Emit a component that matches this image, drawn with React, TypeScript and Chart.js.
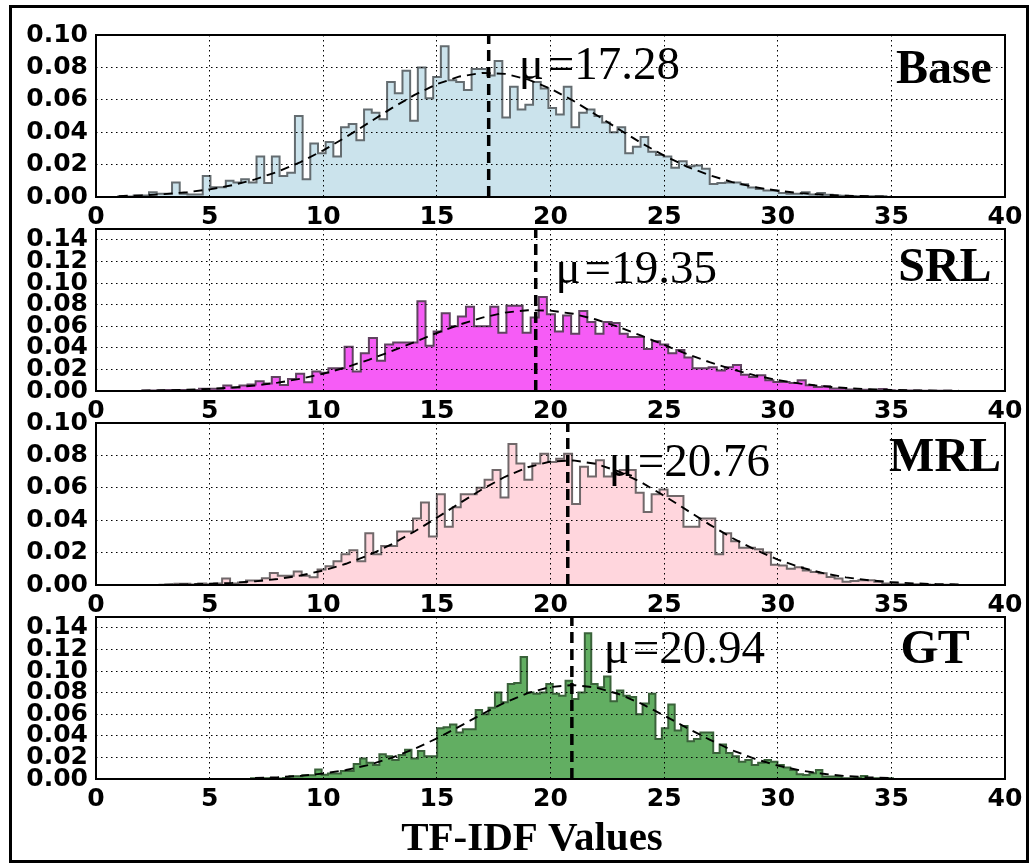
import React, { useEffect, useRef } from "react";
import { Chart, registerables } from "chart.js";

Chart.register(...registerables);

// ---------------- data ----------------
const xTickValues = [0, 5, 10, 15, 20, 25, 30, 35, 40];
const yTickValuesShort = [0, 0.02, 0.04, 0.06, 0.08, 0.1];
const yTickValuesTall = [0, 0.02, 0.04, 0.06, 0.08, 0.1, 0.12, 0.14];
const xAxisLabel = "TF-IDF Values";

const panelNames = ["Base", "SRL", "MRL", "GT"];
const panelMeans = [17.28, 19.35, 20.76, 20.94];
const panelYMax = [0.1, 0.15, 0.1, 0.15];

// Base histogram (density per bin)
const baseBinStart = 0.98;
const baseBinWidth = 0.338;
const baseHeights = [
  0.0005, 0.0005, 0.0003, 0.001, 0.001, 0.003, 0.002, 0.002, 0.009, 0.002,
  0.0015, 0.0015, 0.013, 0.006, 0.006, 0.01, 0.009, 0.011, 0.009, 0.025,
  0.0086, 0.025, 0.013, 0.015, 0.05, 0.011, 0.033, 0.027, 0.034, 0.025,
  0.043, 0.045, 0.035, 0.054, 0.052, 0.048, 0.071, 0.064, 0.078, 0.047,
  0.08, 0.061, 0.074, 0.093, 0.072, 0.071, 0.066, 0.079, 0.079, 0.075,
  0.084, 0.049, 0.068, 0.054, 0.057, 0.071, 0.067, 0.055, 0.051, 0.068,
  0.043, 0.052, 0.054, 0.05, 0.046, 0.04, 0.043, 0.027, 0.031, 0.037,
  0.028, 0.026, 0.025, 0.018, 0.022, 0.019, 0.0195, 0.0175, 0.008, 0.0086,
  0.009, 0.009, 0.0078, 0.0058, 0.005, 0.004, 0.004, 0.0025, 0.002, 0.002,
  0.003, 0.0016, 0.0025, 0.0014, 0.001, 0.0008, 0.0006, 0.0005, 0.0005, 0.0004,
];
const baseCurveX = [1, 2, 3, 4, 5, 6, 7, 8, 9, 10, 11, 12, 13, 14, 15, 16, 17, 18, 19, 20, 21, 22, 23, 24, 25, 26, 27, 28, 29, 30, 31, 32, 33, 34, 35];
const baseCurveY = [
  0.00057, 0.00102, 0.00177, 0.00294, 0.00472, 0.00729, 0.01087, 0.01561, 0.02159, 0.02879,
  0.037, 0.0458, 0.0547, 0.0629, 0.0697, 0.0744, 0.0766, 0.076, 0.0726, 0.0669,
  0.0594, 0.0508, 0.0419, 0.0333, 0.0255, 0.0188, 0.0134, 0.00916, 0.00605, 0.00385,
  0.00236, 0.0014, 0.0008, 0.00044, 0.00023,
];

// SRL histogram
const srlBinStart = 2.04;
const srlBinWidth = 0.356;
const srlHeights = [
  0.0003, 0.0005, 0.0005, 0.0008, 0.001, 0.001, 0.001, 0.001, 0.002, 0.002,
  0.002, 0.005, 0.003, 0.005, 0.006, 0.009, 0.007, 0.013, 0.0056, 0.011,
  0.016, 0.008, 0.018, 0.017, 0.021, 0.021, 0.041, 0.018, 0.035, 0.049,
  0.028, 0.043, 0.045, 0.045, 0.045, 0.083, 0.042, 0.055, 0.072, 0.06,
  0.069, 0.078, 0.06, 0.06, 0.078, 0.054, 0.079, 0.079, 0.054, 0.068,
  0.087, 0.071, 0.055, 0.07, 0.053, 0.074, 0.064, 0.053, 0.064, 0.063,
  0.053, 0.05, 0.05, 0.039, 0.046, 0.043, 0.035, 0.038, 0.031, 0.021,
  0.021, 0.022, 0.019, 0.022, 0.024, 0.015, 0.013, 0.0145, 0.0099, 0.0084,
  0.0084, 0.0074, 0.0099, 0.0053, 0.0037, 0.0043, 0.0022, 0.0022, 0.0015, 0.0012,
  0.0012, 0.0006, 0.0018, 0.0006, 0.0003, 0.0004, 0.0005, 0.0003, 0.0003, 0.0002,
];
const srlCurveX = [2, 3, 4, 5, 6, 7, 8, 9, 10, 11, 12, 13, 14, 15, 16, 17, 18, 19, 20, 21, 22, 23, 24, 25, 26, 27, 28, 29, 30, 31, 32, 33, 34, 35, 36, 37, 38];
const srlCurveY = [
  0.00037, 0.00067, 0.00117, 0.00197, 0.00322, 0.00506, 0.0077, 0.0113, 0.016, 0.0219,
  0.0289, 0.0368, 0.0452, 0.0537, 0.0615, 0.068, 0.0726, 0.0748, 0.0744, 0.0715,
  0.0662, 0.0593, 0.0512, 0.0427, 0.0343, 0.0267, 0.02, 0.0145, 0.0101, 0.0068,
  0.0044, 0.0028, 0.0017, 0.001, 0.00056, 0.00031, 0.00016,
];

// MRL histogram
const mrlBinStart = 2.75;
const mrlBinWidth = 0.35;
const mrlHeights = [
  0.0005, 0.0002, 0.0002, 0.0008, 0.0008, 0.0003, 0.001, 0.0005, 0.001, 0.004,
  0.001, 0.0015, 0.0028, 0.0028, 0.0042, 0.0074, 0.0057, 0.0057, 0.0084, 0.0057,
  0.0048, 0.0095, 0.0116, 0.0147, 0.019, 0.0215, 0.0147, 0.032, 0.019, 0.024,
  0.024, 0.033, 0.033, 0.041, 0.051, 0.03, 0.056, 0.036, 0.048, 0.056,
  0.056, 0.06, 0.065, 0.071, 0.054, 0.087, 0.075, 0.065, 0.075, 0.081,
  0.076, 0.078, 0.081, 0.05, 0.073, 0.067, 0.077, 0.067, 0.069, 0.071,
  0.071, 0.057, 0.045, 0.056, 0.059, 0.055, 0.055, 0.036, 0.036, 0.041,
  0.041, 0.019, 0.032, 0.027, 0.023, 0.023, 0.022, 0.02, 0.0125, 0.012,
  0.01, 0.011, 0.009, 0.008, 0.0073, 0.005, 0.004, 0.002, 0.0025, 0.003,
  0.003, 0.002, 0.001, 0.001, 0.0005, 0.0003, 0.0004, 0.0003, 0.0002, 0.0002,
];
const mrlCurveX = [3, 4, 5, 6, 7, 8, 9, 10, 11, 12, 13, 14, 15, 16, 17, 18, 19, 20, 21, 22, 23, 24, 25, 26, 27, 28, 29, 30, 31, 32, 33, 34, 35, 36, 37, 38];
const mrlCurveY = [
  0.00022, 0.00041, 0.00075, 0.00133, 0.00227, 0.00371, 0.00586, 0.00892, 0.0131, 0.0184,
  0.0251, 0.0329, 0.0415, 0.0505, 0.0592, 0.0668, 0.0727, 0.0762, 0.0769, 0.0748,
  0.0701, 0.0633, 0.0551, 0.0462, 0.0373, 0.029, 0.0218, 0.0157, 0.0109, 0.0073,
  0.0047, 0.0029, 0.0018, 0.001, 0.00057, 0.0003,
];

// GT histogram
const gtBinStart = 6.82;
const gtBinWidth = 0.2825;
const gtHeights = [
  0.0008, 0.0008, 0.0008, 0.0008, 0.001, 0.0005, 0.001, 0.0025, 0.0025, 0.0035,
  0.0035, 0.0088, 0.004, 0.005, 0.005, 0.0075, 0.0075, 0.0138, 0.019, 0.015,
  0.013, 0.023, 0.021, 0.0176, 0.0223, 0.027, 0.019, 0.026, 0.021, 0.021,
  0.047, 0.048, 0.0505, 0.043, 0.046, 0.046, 0.064, 0.06, 0.066, 0.08,
  0.071, 0.088, 0.089, 0.113, 0.08, 0.079, 0.08, 0.088, 0.079, 0.077,
  0.091, 0.074, 0.08, 0.135, 0.088, 0.085, 0.095, 0.072, 0.082, 0.077,
  0.076, 0.06, 0.07, 0.079, 0.037, 0.047, 0.069, 0.045, 0.049, 0.035,
  0.037, 0.043, 0.043, 0.024, 0.032, 0.024, 0.021, 0.016, 0.0176, 0.013,
  0.015, 0.0176, 0.016, 0.013, 0.0106, 0.0084, 0.0044, 0.0037, 0.0053, 0.0084,
  0.0022, 0.0022, 0.0022, 0.0006, 0.0006, 0.0012, 0.0028, 0.0008, 0.0006, 0.0008,
];
const gtCurveX = [7, 8, 9, 10, 11, 12, 13, 14, 15, 16, 17, 18, 19, 20, 21, 22, 23, 24, 25, 26, 27, 28, 29, 30, 31, 32, 33, 34, 35];
const gtCurveY = [
  0.00086, 0.00163, 0.00294, 0.00507, 0.00833, 0.013, 0.0195, 0.0277, 0.0376, 0.0487,
  0.0602, 0.0709, 0.0796, 0.0852, 0.087, 0.0847, 0.0787, 0.0697, 0.0588, 0.0474,
  0.0364, 0.0266, 0.0186, 0.0124, 0.0079, 0.0048, 0.0027, 0.0015, 0.0008,
];

// ---------------- layout / style ----------------
const PAGE_W = 1031;
const PAGE_H = 864;
const PLOT_LEFT = 96;
const PLOT_RIGHT = 1005;
const PLOT_TOPS = [35, 229, 423, 617];
const PLOT_H = 162;
const X_AXIS_H = 40;

const panelStyles = [
  { fill: "rgb(203,227,236)", edge: "rgb(100,108,112)", muX: 18.6, muDy: 44, labelX: 35.2, labelDy: 48 },
  { fill: "rgb(246,92,246)", edge: "rgb(96,68,96)", muX: 20.22, muDy: 54, labelX: 35.3, labelDy: 52 },
  { fill: "rgb(255,214,221)", edge: "rgb(112,104,106)", muX: 22.56, muDy: 53, labelX: 34.9, labelDy: 48 },
  { fill: "rgb(98,174,98)", edge: "rgb(58,98,58)", muX: 22.34, muDy: 46, labelX: 35.4, labelDy: 46 },
];

const histSources = [
  { start: baseBinStart, width: baseBinWidth, heights: baseHeights, cx: baseCurveX, cy: baseCurveY },
  { start: srlBinStart, width: srlBinWidth, heights: srlHeights, cx: srlCurveX, cy: srlCurveY },
  { start: mrlBinStart, width: mrlBinWidth, heights: mrlHeights, cx: mrlCurveX, cy: mrlCurveY },
  { start: gtBinStart, width: gtBinWidth, heights: gtHeights, cx: gtCurveX, cy: gtCurveY },
];

function histPoints(start: number, width: number, heights: number[]) {
  const pts: { x: number; y: number }[] = [{ x: start, y: 0 }];
  heights.forEach((h, i) => pts.push({ x: start + i * width, y: h }));
  const end = start + heights.length * width;
  pts.push({ x: end, y: heights[heights.length - 1] });
  pts.push({ x: end, y: 0 });
  return pts;
}

const tickFont = { family: "'DejaVu Sans'", size: 25, weight: "bold" as const };

function makeChart(canvas: HTMLCanvasElement, idx: number) {
  const src = histSources[idx];
  const st = panelStyles[idx];
  const mean = panelMeans[idx];
  const ymax = panelYMax[idx];
  const yTicks = ymax > 0.12 ? yTickValuesTall : yTickValuesShort;
  const top = PLOT_TOPS[idx];
  const isLast = idx === panelNames.length - 1;

  const annot = {
    id: "annot" + idx,
    afterDraw(chart: any) {
      const { ctx, chartArea: a, scales } = chart;
      ctx.save();
      ctx.setLineDash([]);
      ctx.strokeStyle = "#000";
      ctx.lineWidth = 2;
      ctx.strokeRect(a.left, a.top, a.right - a.left, a.bottom - a.top);
      ctx.fillStyle = "#000";
      ctx.textAlign = "left";
      ctx.textBaseline = "alphabetic";
      ctx.font = "47px 'Liberation Serif'";
      ctx.fillText("\u03bc\u200a=" + mean.toFixed(2), scales.x.getPixelForValue(st.muX), a.top + st.muDy);
      ctx.font = "bold 48px 'Liberation Serif'";
      ctx.fillText(panelNames[idx], scales.x.getPixelForValue(st.labelX), a.top + st.labelDy);
      if (isLast) {
        ctx.textAlign = "center";
        ctx.font = "bold 41px 'Liberation Serif'";
        ctx.fillText(xAxisLabel, 532, 850);
      }
      ctx.restore();
    },
  };

  return new Chart(canvas, {
    type: "line",
    data: {
      datasets: [
        {
          label: "mean",
          data: [
            { x: mean, y: 0 },
            { x: mean, y: ymax },
          ],
          borderColor: "#000",
          borderWidth: 3.5,
          borderDash: [11, 6],
          pointRadius: 0,
          fill: false,
          order: 1,
        },
        {
          label: "fit",
          data: src.cx.map((x, i) => ({ x, y: src.cy[i] })),
          borderColor: "#000",
          borderWidth: 1.9,
          borderDash: [9, 6],
          pointRadius: 0,
          fill: false,
          tension: 0,
          order: 2,
        },
        {
          label: "hist",
          data: histPoints(src.start, src.width, src.heights),
          stepped: "after",
          borderColor: st.edge,
          backgroundColor: st.fill,
          fill: "origin",
          borderWidth: 2,
          pointRadius: 0,
          order: 3,
        },
      ],
    },
    options: {
      responsive: false,
      animation: false,
      devicePixelRatio: 1,
      events: [],
      layout: {
        padding: {
          left: 0,
          right: PAGE_W - PLOT_RIGHT,
          top,
          bottom: PAGE_H - top - PLOT_H - X_AXIS_H,
        },
      },
      plugins: { legend: { display: false }, tooltip: { enabled: false } },
      scales: {
        x: {
          type: "linear",
          min: 0,
          max: 40,
          afterBuildTicks: (s: any) => {
            s.ticks = xTickValues.map((v) => ({ value: v }));
          },
          afterFit: (s: any) => {
            s.height = X_AXIS_H;
          },
          ticks: {
            autoSkip: false,
            maxRotation: 0,
            minRotation: 0,
            color: "#000",
            font: tickFont,
            padding: 5,
            callback: (v: any) => String(v),
          },
          grid: { color: "#000", lineWidth: 1, drawTicks: false, z: 1 },
          border: { display: false, dash: [1.5, 3.5] },
        },
        y: {
          type: "linear",
          min: 0,
          max: ymax,
          afterBuildTicks: (s: any) => {
            s.ticks = yTicks.map((v) => ({ value: v }));
          },
          afterFit: (s: any) => {
            s.width = PLOT_LEFT;
          },
          ticks: {
            autoSkip: false,
            color: "#000",
            font: tickFont,
            padding: 8,
            callback: (v: any) => Number(v).toFixed(2),
          },
          grid: { color: "#000", lineWidth: 1, drawTicks: false, z: 1 },
          border: { display: false, dash: [1.5, 3.5] },
        },
      },
    } as any,
    plugins: [annot],
  });
}

export default function App() {
  const refs = [
    useRef<HTMLCanvasElement>(null),
    useRef<HTMLCanvasElement>(null),
    useRef<HTMLCanvasElement>(null),
    useRef<HTMLCanvasElement>(null),
  ];

  useEffect(() => {
    const charts = refs.map((r, i) => makeChart(r.current as HTMLCanvasElement, i));
    return () => charts.forEach((c) => c.destroy());
  }, []);

  return (
    <div
      style={{
        position: "fixed",
        left: 0,
        top: 0,
        width: PAGE_W,
        height: PAGE_H,
        background: "#fff",
        overflow: "hidden",
      }}
    >
      <div
        style={{
          position: "absolute",
          left: 9,
          top: 5,
          width: 1020,
          height: 858,
          border: "3px solid #000",
          boxSizing: "border-box",
        }}
      />
      {refs.map((r, i) => (
        <canvas
          key={i}
          ref={r}
          width={PAGE_W}
          height={PAGE_H}
          style={{ position: "absolute", left: 0, top: 0, width: PAGE_W, height: PAGE_H }}
        />
      ))}
    </div>
  );
}
